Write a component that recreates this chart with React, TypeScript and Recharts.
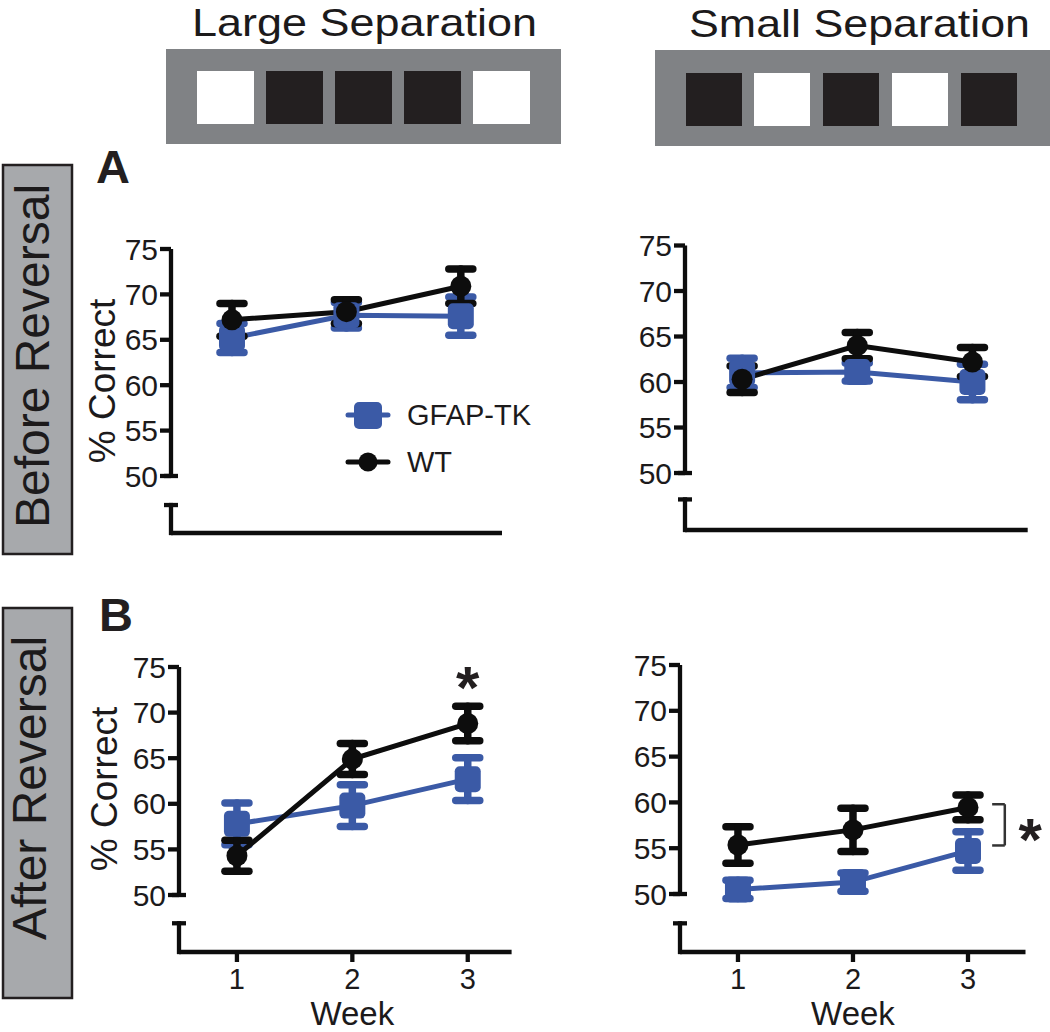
import React from 'react';
import { LineChart, Line, XAxis, YAxis, ErrorBar, ReferenceLine, ReferenceDot, Legend } from 'recharts';

// ---------------- DATA ----------------
const weeks = [1, 2, 3];
const seriesNames = ['GFAP-TK', 'WT'];
const yTicks = [50, 55, 60, 65, 70, 75];

// A: before reversal
const largeBeforeGfap = [65.2, 67.7, 67.6];
const largeBeforeGfapErr = [1.6, 1.4, 2.1];
const largeBeforeWt = [67.2, 68.1, 70.9];
const largeBeforeWtErr = [1.8, 1.3, 1.9];

const smallBeforeGfap = [61.0, 61.1, 60.0];
const smallBeforeGfapErr = [1.6, 1.0, 1.95];
const smallBeforeWt = [60.3, 64.0, 62.2];
const smallBeforeWtErr = [1.45, 1.45, 1.6];

// B: after reversal
const largeAfterGfap = [57.8, 59.8, 62.7];
const largeAfterGfapErr = [2.3, 2.3, 2.35];
const largeAfterWt = [54.3, 64.9, 68.8];
const largeAfterWtErr = [1.7, 1.7, 1.9];

const smallAfterGfap = [50.5, 51.3, 54.7];
const smallAfterGfapErr = [1.0, 1.0, 2.1];
const smallAfterWt = [55.35, 57.0, 59.45];
const smallAfterWtErr = [2.0, 2.35, 1.35];

// stimulus patterns (w = white, b = black)
const largePattern = ['w', 'b', 'b', 'b', 'w'];
const smallPattern = ['b', 'w', 'b', 'w', 'b'];

// ---------------- STYLE ----------------
const FONT = '"Liberation Sans", Arial, Helvetica, sans-serif';
const BLUE = '#3b5aa6';
const BLACK = '#0d0d0d';
const INK = '#1c1a1b';

const build = (g: number[], ge: number[], w: number[], we: number[]) =>
  weeks.map((wk, i) => ({ week: wk, gfap: g[i], gfapErr: ge[i], wt: w[i], wtErr: we[i] }));

const SquareDot = (props: any) => {
  const { cx, cy, index } = props;
  if (cx == null || cy == null) return <g key={`sq-${index}`} />;
  return <rect key={`sq-${index}`} x={cx - 13} y={cy - 13} width={26} height={26} rx={5} fill={BLUE} />;
};

const CircleDot = (props: any) => {
  const { cx, cy, index } = props;
  if (cx == null || cy == null) return <g key={`ci-${index}`} />;
  return <circle key={`ci-${index}`} cx={cx} cy={cy} r={10.5} fill={BLACK} />;
};

const renderLegend = (props: any) => {
  const payload = props.payload || [];
  return (
    <svg width={220} height={100} style={{ overflow: 'visible' }}>
      {payload.map((p: any, i: number) => {
        const cy = 25 + i * 47;
        const isSquare = i === 0;
        return (
          <g key={p.value}>
            <line x1={8} x2={48} y1={cy} y2={cy} stroke={p.color} strokeWidth={5} strokeLinecap="round" />
            {isSquare ? (
              <rect x={14} y={cy - 13} width={28} height={27} rx={5} fill={p.color} />
            ) : (
              <circle cx={28} cy={cy} r={9.5} fill={p.color} />
            )}
            <text x={67} y={cy} dy="0.355em" fontSize={29} fontFamily={FONT} fill={INK}>
              {p.value}
            </text>
          </g>
        );
      })}
    </svg>
  );
};

type Panel = {
  key: string;
  data: any[];
  left: number;
  top: number;
  width: number;
  height: number;
  yAxisWidth: number;
  marginTop: number;
  marginRight: number;
  marginBottom: number;
  xAxisHeight: number;
  xDomain: [number, number];
  yMin: number;
  breakTop: number;
  showX: boolean;
  yLabel?: { bx: number; cy: number };
  legend?: boolean;
  star?: { x: number; y: number };
  bracket?: { x1: number; x2: number; y1: number; y2: number };
};

const panels: Panel[] = [
  {
    key: 'A-large',
    data: build(largeBeforeGfap, largeBeforeGfapErr, largeBeforeWt, largeBeforeWtErr),
    left: 75, top: 200, width: 450, height: 355,
    yAxisWidth: 96, marginTop: 49, marginRight: 23, marginBottom: 2, xAxisHeight: 20,
    xDomain: [0.467, 3.36], yMin: 43.72, breakTop: 46.8, showX: false,
    yLabel: { bx: 40, cy: 132 }, legend: true,
  },
  {
    key: 'A-small',
    data: build(smallBeforeGfap, smallBeforeGfapErr, smallBeforeWt, smallBeforeWtErr),
    left: 590, top: 200, width: 460, height: 352,
    yAxisWidth: 95, marginTop: 45.5, marginRight: 22.3, marginBottom: 2, xAxisHeight: 20,
    xDomain: [0.504, 3.48], yMin: 43.74, breakTop: 47.1, showX: false,
  },
  {
    key: 'B-large',
    data: build(largeAfterGfap, largeAfterGfapErr, largeAfterWt, largeAfterWtErr),
    left: 75, top: 620, width: 455, height: 412,
    yAxisWidth: 104, marginTop: 47, marginRight: 18.4, marginBottom: 0, xAxisHeight: 80,
    xDomain: [0.498, 3.38], yMin: 43.75, breakTop: 46.9, showX: true,
    yLabel: { bx: 42, cy: 122 }, star: { x: 3, y: 73.9 },
  },
  {
    key: 'B-small',
    data: build(smallAfterGfap, smallAfterGfapErr, smallAfterWt, smallAfterWtErr),
    left: 590, top: 620, width: 460, height: 412,
    yAxisWidth: 90, marginTop: 45, marginRight: 24.5, marginBottom: 0, xAxisHeight: 80,
    xDomain: [0.496, 3.5], yMin: 43.67, breakTop: 46.8, showX: true,
    star: { x: 3.54, y: 57.1 }, bracket: { x1: 3.21, x2: 3.32, y1: 59.8, y2: 55.3 },
  },
];

const StarLabel = (props: any) => {
  const vb = props.viewBox || {};
  const x = vb.x + (vb.width || 0) / 2;
  const y = vb.y + (vb.height || 0) / 2;
  return (
    <text x={x} y={y + 31} textAnchor="middle" fontSize={60} fontWeight="bold" fontFamily={FONT} fill="#231f20">
      *
    </text>
  );
};

function PanelChart({ p }: { p: Panel }) {
  const [xmin, xmax] = p.xDomain;
  const plotW = p.width - p.yAxisWidth - p.marginRight;
  const pxPerX = plotW / (xmax - xmin);
  const cap = 7 / pxPerX;
  const axisStroke = { stroke: BLACK, strokeWidth: 4.3 };
  return (
    <div style={{ position: 'absolute', left: p.left, top: p.top, width: p.width, height: p.height }}>
      <LineChart
        width={p.width}
        height={p.height}
        data={p.data}
        margin={{ top: p.marginTop, right: p.marginRight, bottom: p.marginBottom, left: 0 }}
      >
        <XAxis
          type="number"
          dataKey="week"
          domain={[xmin, xmax]}
          allowDataOverflow
          ticks={weeks}
          height={p.xAxisHeight}
          axisLine={axisStroke}
          tickLine={axisStroke}
          tickSize={10}
          tickMargin={6}
          tick={p.showX ? { fontSize: 29, fill: INK, fontFamily: FONT } : false}
          label={
            p.showX
              ? (lp: any) => {
                  const vb = lp.viewBox || {};
                  const cx = vb.x + ((2 - xmin) / (xmax - xmin)) * vb.width;
                  return (
                    <text x={cx} y={vb.y + 73} textAnchor="middle" fontSize={33} fontFamily={FONT} fill={INK}>
                      Week
                    </text>
                  );
                }
              : undefined
          }
        />
        <YAxis
          type="number"
          domain={[p.yMin, 75]}
          allowDataOverflow
          ticks={yTicks}
          width={p.yAxisWidth}
          axisLine={false}
          tickLine={axisStroke}
          tickSize={11}
          tickMargin={2}
          tick={{ fontSize: 30, fill: INK, fontFamily: FONT }}
          label={
            p.yLabel
              ? (lp: any) => {
                  const vb = lp.viewBox || {};
                  const tx = vb.x + p.yLabel!.bx;
                  const ty = vb.y + p.yLabel!.cy;
                  return (
                    <text
                      transform={`translate(${tx}, ${ty}) rotate(-90)`}
                      textAnchor="middle"
                      fontSize={37}
                      fontFamily={FONT}
                      fill={INK}
                    >
                      % Correct
                    </text>
                  );
                }
              : undefined
          }
        />
        {/* broken y axis */}
        <ReferenceLine segment={[{ x: xmin, y: 50 }, { x: xmin, y: 75 }]} ifOverflow="visible" stroke={BLACK} strokeWidth={4.3} />
        <ReferenceLine segment={[{ x: xmin - cap, y: 50 }, { x: xmin + cap, y: 50 }]} ifOverflow="visible" stroke={BLACK} strokeWidth={4.3} />
        <ReferenceLine
          segment={[{ x: xmin, y: p.breakTop }, { x: xmin, y: p.yMin }]}
          ifOverflow="visible"
          stroke={BLACK}
          strokeWidth={4.3}
          strokeLinecap="square"
        />
        <ReferenceLine segment={[{ x: xmin - cap, y: p.breakTop }, { x: xmin + cap, y: p.breakTop }]} ifOverflow="visible" stroke={BLACK} strokeWidth={4.3} />
        {p.bracket ? (
          <>
            <ReferenceLine segment={[{ x: p.bracket.x1, y: p.bracket.y1 }, { x: p.bracket.x2, y: p.bracket.y1 }]} ifOverflow="visible" stroke="#333" strokeWidth={2.5} />
            <ReferenceLine segment={[{ x: p.bracket.x2, y: p.bracket.y1 }, { x: p.bracket.x2, y: p.bracket.y2 }]} ifOverflow="visible" stroke="#333" strokeWidth={2.5} />
            <ReferenceLine segment={[{ x: p.bracket.x1, y: p.bracket.y2 }, { x: p.bracket.x2, y: p.bracket.y2 }]} ifOverflow="visible" stroke="#333" strokeWidth={2.5} />
          </>
        ) : null}
        <Line
          name={seriesNames[0]}
          dataKey="gfap"
          type="linear"
          stroke={BLUE}
          strokeWidth={5}
          dot={SquareDot}
          activeDot={false}
          isAnimationActive={false}
        >
          <ErrorBar dataKey="gfapErr" direction="y" width={12} stroke={BLUE} strokeWidth={7.5} strokeLinecap="round" isAnimationActive={false} />
        </Line>
        <Line
          name={seriesNames[1]}
          dataKey="wt"
          type="linear"
          stroke={BLACK}
          strokeWidth={5}
          dot={CircleDot}
          activeDot={false}
          isAnimationActive={false}
        >
          <ErrorBar dataKey="wtErr" direction="y" width={12} stroke={BLACK} strokeWidth={7.5} strokeLinecap="round" isAnimationActive={false} />
        </Line>
        {p.star ? (
          <ReferenceDot x={p.star.x} y={p.star.y} r={0} fill="none" stroke="none" ifOverflow="visible" label={StarLabel} />
        ) : null}
        {p.legend ? (
          <Legend
            layout="vertical"
            align="center"
            verticalAlign="middle"
            content={renderLegend}
            wrapperStyle={{ position: 'absolute', left: 265, top: 190, width: 220, height: 100 }}
          />
        ) : null}
      </LineChart>
    </div>
  );
}

function Decorations() {
  const box = '#808285';
  const side = '#a7a9ac';
  const largeX = [197, 266, 335, 404, 473];
  const smallX = [686, 754, 823, 892, 961];
  return (
    <svg width={1050} height={1032} style={{ position: 'absolute', left: 0, top: 0 }}>
      <text x={364.5} y={36} textAnchor="middle" fontSize={39} fontFamily={FONT} fill={INK} textLength={345} lengthAdjust="spacingAndGlyphs">
        Large Separation
      </text>
      <rect x={166} y={49} width={395} height={95} fill={box} />
      {largePattern.map((c, i) => (
        <rect key={`l${i}`} x={largeX[i]} y={71} width={57} height={53} fill={c === 'w' ? '#ffffff' : '#231f20'} />
      ))}
      <text x={859.5} y={37} textAnchor="middle" fontSize={39} fontFamily={FONT} fill={INK} textLength={341} lengthAdjust="spacingAndGlyphs">
        Small Separation
      </text>
      <rect x={655} y={50} width={395} height={96} fill={box} />
      {smallPattern.map((c, i) => (
        <rect key={`s${i}`} x={smallX[i]} y={73} width={56} height={53} fill={c === 'w' ? '#ffffff' : '#231f20'} />
      ))}

      <rect x={3} y={165} width={69} height={389} fill={side} stroke="#231f20" strokeWidth={2.5} />
      <text transform="translate(49, 356) rotate(-90)" textAnchor="middle" fontSize={48} fontFamily={FONT} fill={INK}>
        Before Reversal
      </text>
      <rect x={3} y={608} width={69} height={390} fill={side} stroke="#231f20" strokeWidth={2.5} />
      <text transform="translate(46, 788) rotate(-90)" textAnchor="middle" fontSize={48} fontFamily={FONT} fill={INK}>
        After Reversal
      </text>

      <text x={96} y={183} fontSize={47} fontWeight="bold" fontFamily={FONT} fill="#231f20">A</text>
      <text x={99} y={631} fontSize={47} fontWeight="bold" fontFamily={FONT} fill="#231f20">B</text>
    </svg>
  );
}

export default function App() {
  return (
    <div style={{ position: 'absolute', left: 0, top: 0, width: 1050, height: 1032, background: '#fff', fontFamily: FONT }}>
      <Decorations />
      {panels.map((p) => (
        <PanelChart key={p.key} p={p} />
      ))}
    </div>
  );
}
